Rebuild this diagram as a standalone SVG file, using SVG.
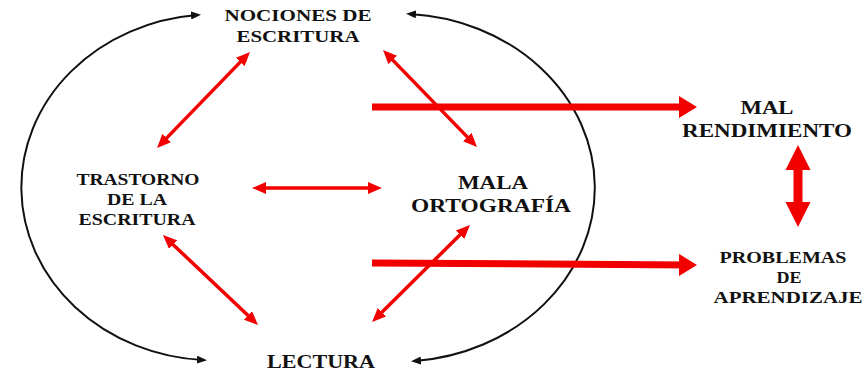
<svg xmlns="http://www.w3.org/2000/svg" width="865" height="372" viewBox="0 0 865 372">
<style>
.t{font-family:"Liberation Serif","Times New Roman",serif;font-weight:bold;fill:#111;text-anchor:middle;}
.s17{font-size:17px}.s18{font-size:18px}.s19{font-size:19px}
.blk{fill:none;stroke:#111;stroke-width:2}
.red{fill:none;stroke:#f20000;stroke-width:3.5}
.thick{fill:none;stroke:#f20000;stroke-width:7}
</style>
<defs>
<marker id="bh" markerUnits="userSpaceOnUse" markerWidth="10" markerHeight="8" refX="6" refY="4" orient="auto-start-reverse"><path d="M0,0 L10,4 L0,8 z" fill="#111"/></marker>
<marker id="rh" markerUnits="userSpaceOnUse" markerWidth="14" markerHeight="12" refX="9" refY="6" orient="auto-start-reverse"><path d="M0,0 L14,6 L0,12 z" fill="#f20000"/></marker>
<marker id="th" markerUnits="userSpaceOnUse" markerWidth="18" markerHeight="22" refX="12" refY="11" orient="auto"><path d="M0,0 L18,11 L0,22 z" fill="#f20000"/></marker>
</defs>
<g id="connectors">
<path class="blk" d="M197,15 A193,173 0 0 0 203,360" marker-start="url(#bh)" marker-end="url(#bh)"/>
<path class="blk" d="M410,14 A197,174 0 0 1 415,361" marker-start="url(#bh)" marker-end="url(#bh)"/>
<line class="red" x1="246.5" y1="55.6" x2="160.5" y2="144.4" marker-start="url(#rh)" marker-end="url(#rh)"/>
<line class="red" x1="386.5" y1="53.6" x2="473.5" y2="143.4" marker-start="url(#rh)" marker-end="url(#rh)"/>
<line class="red" x1="257" y1="188" x2="377" y2="188" marker-start="url(#rh)" marker-end="url(#rh)"/>
<line class="red" x1="166.6" y1="238.4" x2="254.4" y2="321.6" marker-start="url(#rh)" marker-end="url(#rh)"/>
<line class="red" x1="466.4" y1="228.5" x2="375.6" y2="318.5" marker-start="url(#rh)" marker-end="url(#rh)"/>
<line class="thick" x1="372" y1="107" x2="691" y2="107" marker-end="url(#th)"/>
<line class="thick" x1="372" y1="263" x2="691" y2="265" marker-end="url(#th)"/>
<polygon fill="#f20000" points="798,145 810.5,170 802.5,170 802.5,202 810.5,202 798,227 785.5,202 793.5,202 793.5,170 785.5,170"/>
</g>
<g id="nociones"><text class="t s17" x="298" y="21" textLength="147" lengthAdjust="spacingAndGlyphs">NOCIONES DE</text><text class="t s17" x="298" y="42" textLength="123" lengthAdjust="spacingAndGlyphs">ESCRITURA</text></g>
<g id="trastorno"><text class="t s17" x="138" y="185" textLength="123" lengthAdjust="spacingAndGlyphs">TRASTORNO</text><text class="t s17" x="137" y="205" textLength="60" lengthAdjust="spacingAndGlyphs">DE LA</text><text class="t s17" x="137" y="225" textLength="117" lengthAdjust="spacingAndGlyphs">ESCRITURA</text></g>
<g id="mala"><text class="t s18" x="493" y="189" textLength="70" lengthAdjust="spacingAndGlyphs">MALA</text><text class="t s18" x="491" y="212" textLength="160" lengthAdjust="spacingAndGlyphs">ORTOGRAFÍA</text></g>
<g id="lectura"><text class="t s18" x="321" y="368" textLength="108" lengthAdjust="spacingAndGlyphs">LECTURA</text></g>
<g id="rendimiento"><text class="t s19" x="767" y="114" textLength="53" lengthAdjust="spacingAndGlyphs">MAL</text><text class="t s19" x="767" y="137" textLength="170" lengthAdjust="spacingAndGlyphs">RENDIMIENTO</text></g>
<g id="problemas"><text class="t s17" x="783" y="263" textLength="127" lengthAdjust="spacingAndGlyphs">PROBLEMAS</text><text class="t s17" x="789" y="283" textLength="25" lengthAdjust="spacingAndGlyphs">DE</text><text class="t s17" x="788" y="303" textLength="149" lengthAdjust="spacingAndGlyphs">APRENDIZAJE</text></g>
</svg>
